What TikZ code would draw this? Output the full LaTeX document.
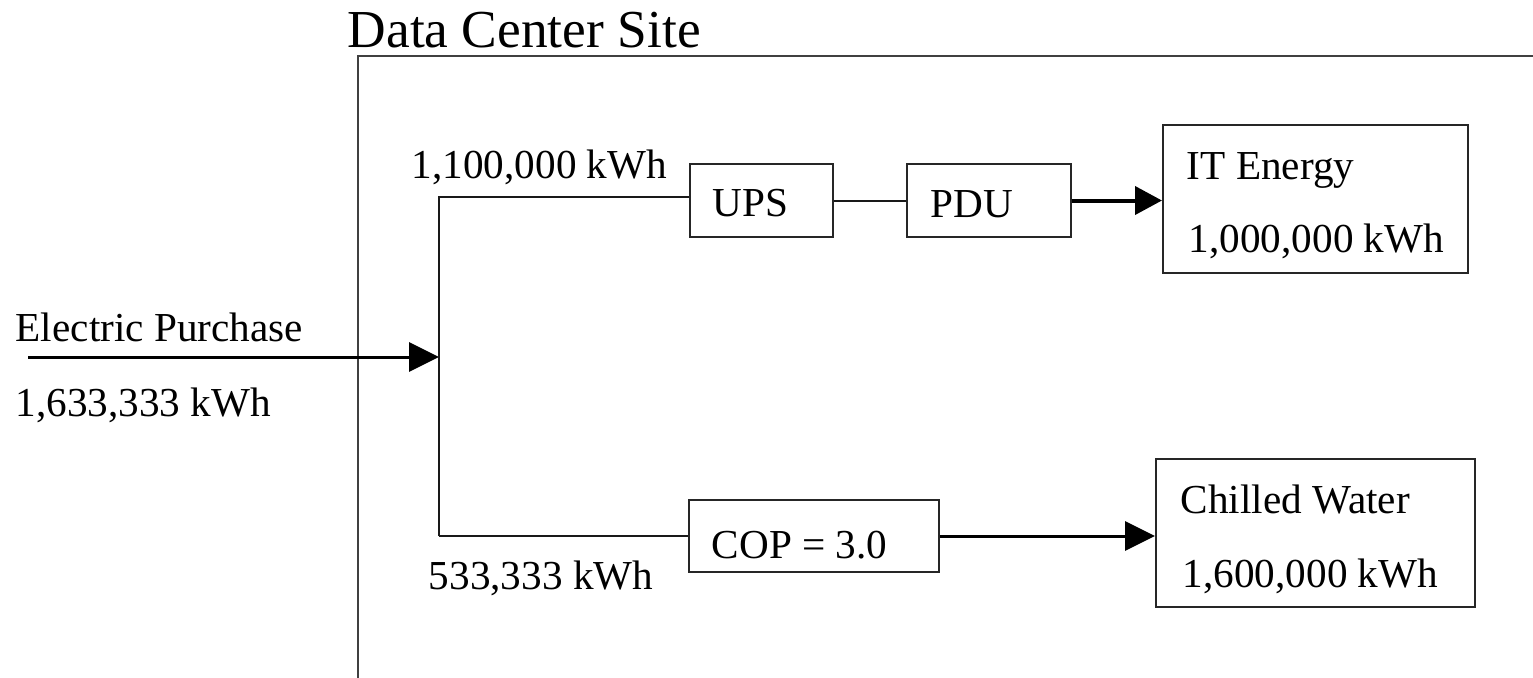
\documentclass[tikz,border=0pt]{standalone}
\usepackage{fontspec}
\setmainfont{Liberation Serif}
\usetikzlibrary{arrows.meta}
\begin{document}
\begin{tikzpicture}[x=0.25pt,y=-0.25pt,
  txt/.style={anchor=base west,inner sep=0pt,font=\fontsize{10.3pt}{12pt}\selectfont},
  ttl/.style={anchor=base west,inner sep=0pt,font=\fontsize{13.35pt}{16pt}\selectfont},
  box/.style={draw=black!85,line width=0.5pt,inner sep=0pt},
  wire/.style={draw=black!90,line width=0.5pt},
  flow/.style={draw=black,line width=0.75pt,-{Triangle[length=7.5pt,width=7.25pt]}},
  bigflow/.style={draw=black,line width=1pt,-{Triangle[length=6.75pt,width=7pt]}}]
\useasboundingbox (0,0) rectangle (1533,677);
% site frame
\coordinate (sbl) at (358,690);
\coordinate (stl) at (358,56);
\coordinate (str) at (1540,56);
\draw[draw=black!75,line width=0.55pt] (sbl) -- (stl) -- (str);
\node[ttl] (title) at (347,47) {Data Center Site};
% boxes
\node[box,minimum width=35.75pt,minimum height=18.25pt] (ups) at (761.5,200.5) {};
\node[box,minimum width=41pt,minimum height=18.25pt] (pdu) at (989,200.5) {};
\node[box,minimum width=76.25pt,minimum height=37pt] (it) at (1315.5,199) {};
\node[box,minimum width=62.5pt,minimum height=18pt] (cop) at (814,536) {};
\node[box,minimum width=79.75pt,minimum height=37pt] (cw) at (1315.5,533) {};
% texts
\node[txt] (upst) at (712,216) {UPS};
\node[txt] (pdut) at (930,217) {PDU};
\node[txt] (itt) at (1186,179) {IT Energy};
\node[txt] (itv) at (1188,252) {1,000,000 kWh};
\node[txt] (copt) at (711,558) {COP = 3.0};
\node[txt] (cwt) at (1180,513) {Chilled Water};
\node[txt] (cwv) at (1182,587) {1,600,000 kWh};
\node[txt] (ept) at (15,341) {Electric Purchase};
\node[txt] (epv) at (15,416) {1,633,333 kWh};
\node[txt] (upv) at (411,178) {1,100,000 kWh};
\node[txt] (cpv) at (428,589) {533,333 kWh};
% connectors
\coordinate (ein) at (28,357);
\coordinate (j) at (439,357);
\coordinate (btop) at (439,197);
\coordinate (bbot) at (439,536);
\draw[flow] (ein) -- (j);
\draw[wire] (bbot) -- (btop) -- (btop -| ups.west);
\draw[wire] (bbot) -- (cop.west);
\draw[wire] (ups.east) -- (pdu.west);
\draw[bigflow] (pdu.east) -- (pdu.east -| it.west);
\draw[flow] (cop.east) -- (cop.east -| cw.west);
\end{tikzpicture}
\end{document}
